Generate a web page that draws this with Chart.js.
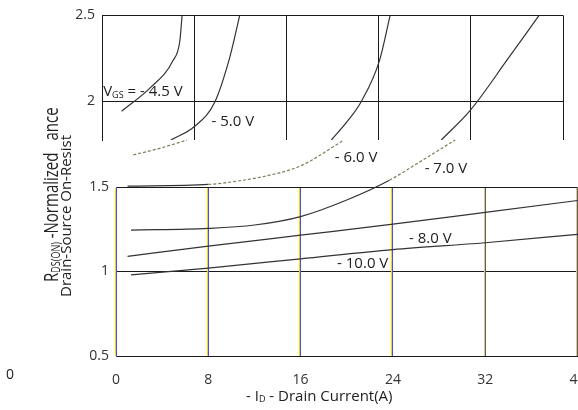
<!DOCTYPE html>
<html>
<head>
<meta charset="utf-8">
<script src="https://cdn.jsdelivr.net/npm/chart.js@4.4.1/dist/chart.umd.min.js"></script>
<style>
	html, body {margin: 0; padding: 0; background: #fff;}
	body {width: 578px; height: 410px; overflow: hidden; position: relative; font-family: "Open Sans", sans-serif; color: #222;}
	canvas {position: absolute; left: 0; top: 0;}
	.rot {position: absolute; white-space: nowrap; line-height: 1; transform-origin: 0 0;}
	.sub {font-size: 0.6em; vertical-align: -0.15em;}
</style>
</head>
<body>
<canvas id="bottom" width="600" height="410"></canvas>
<canvas id="top" width="600" height="410"></canvas>

<div class="rot" style="left:41px; top:282px; font-size:15px; transform: rotate(-90deg) scaleY(1.3);">R<span class="sub">DS(ON)</span> -Normalized<span style="margin-left:12px">ance</span></div>
<div class="rot" style="left:59px; top:297px; font-size:15px; transform: rotate(-90deg) scaleY(0.92);">Drain-Source On-Resist</div>
<div class="rot" style="left:246px; top:388px; font-size:15px;">- I<span class="sub">D</span> - Drain Current(A)</div>
<div class="rot" style="left:6px; top:367px; font-size:14px;">0</div>

<script>
// drain current (A) / normalized RDS(on)
// lower panel (0.5 .. 1.5), the faint parts above 1.5 sit in the gap
const vgs10I = [1.3, 8, 16, 24, 32, 40];
const vgs10R = [0.98, 1.02, 1.075, 1.13, 1.17, 1.22];
const vgs8I = [1, 8, 16, 24, 32, 40];
const vgs8R = [1.09, 1.15, 1.215, 1.28, 1.35, 1.42];
const vgs7LowI = [1.3, 8, 12, 16, 20, 23.7, 26.6, 29.4];
const vgs7LowR = [1.245, 1.255, 1.275, 1.325, 1.423, 1.54, 1.66, 1.778];
const vgs6LowI = [1, 8, 11, 13, 16, 19.7];
const vgs6LowR = [1.505, 1.515, 1.54, 1.565, 1.625, 1.775];
const vgs5LowI = [1.5, 3.8, 6.15];
const vgs5LowR = [1.69, 1.729, 1.778];

// upper panel (shifted left in the scan)
const vgs45I = [1.7, 4.2, 6.15, 6.75, 6.95];
const vgs45R = [1.943, 2.08, 2.236, 2.35, 2.5];
const vgs5HighI = [5.97, 8.05, 9.78, 11.08, 11.95];
const vgs5HighR = [1.776, 1.856, 1.996, 2.255, 2.5];
const vgs6HighI = [19.9, 21.3, 22.5, 24.07, 25.0];
const vgs6HighR = [1.776, 1.885, 2.0, 2.236, 2.5];
const vgs7HighI = [29.44, 31.95, 35.15, 37.92];
const vgs7HighR = [1.776, 1.948, 2.241, 2.5];

const xTicks = [0, 8, 16, 24, 32, 40];
const lowYTicks = [0.5, 1, 1.5];
const highYTicks = [2, 2.5];

const lowLabels = [
	{parts: [['- 6.0 V']], i: 18.96, r: 1.648},
	{parts: [['- 7.0 V']], i: 26.75, r: 1.581},
	{parts: [['- 8.0 V']], i: 25.4, r: 1.167},
	{parts: [['- 10.0 V']], i: 19.16, r: 1.019},
];
const highLabels = [
	{parts: [['V'], ['GS', true], [' = - 4.5 V']], i: 0.1, r: 2.034},
	{parts: [['- 5.0 V']], i: 9.5, r: 1.856},
];

Chart.defaults.font.family = '"Open Sans", sans-serif';
Chart.defaults.color = '#222';
Chart.defaults.animation = false;

const pts = (xs, ys) => xs.map((x, k) => ({x: x, y: ys[k]}));

const curveLabels = {
	id: 'curveLabels',
	afterDatasetsDraw(chart, args, opts) {
		const {ctx, scales: {x, y}} = chart;
		ctx.save();
		ctx.fillStyle = '#222';
		ctx.textBaseline = 'alphabetic';
		opts.items.forEach(item => {
			let px = x.getPixelForValue(item.i);
			const py = y.getPixelForValue(item.r);
			item.parts.forEach(([text, sub]) => {
				ctx.font = (sub ? '9px' : '15px') + ' "Open Sans", sans-serif';
				ctx.fillText(text, px, sub ? py + 2 : py);
				px += ctx.measureText(text).width;
			});
		});
		ctx.restore();
	}
};

// vertical grid lines at the x ticks; lower panel has a yellow fringe left of each blue line
const panelGrid = {
	id: 'panelGrid',
	beforeDatasetsDraw(chart, args, opts) {
		const {ctx, chartArea, scales: {x}} = chart;
		ctx.save();
		ctx.lineWidth = 1;
		x.ticks.forEach(t => {
			const px = Math.round(x.getPixelForValue(t.value) - 0.5) + 0.5;
			opts.colors.forEach((c, k) => {
				ctx.strokeStyle = c;
				ctx.beginPath();
				ctx.moveTo(px - (opts.colors.length - 1 - k), chartArea.top + opts.inset);
				ctx.lineTo(px - (opts.colors.length - 1 - k), chartArea.bottom);
				ctx.stroke();
			});
		});
		ctx.restore();
	}
};

const gapped = c => c.p0.parsed.y >= 1.5 && c.p1.parsed.y > 1.53;
const gapDash = c => gapped(c) ? [3, 2] : undefined;
const gapColor = c => gapped(c) ? '#7d7d5c' : undefined;

const curve = (data, extra) => Object.assign({
	data: data,
	borderColor: '#333',
	borderWidth: 1.2,
	pointRadius: 0,
	cubicInterpolationMode: 'monotone',
	fill: false
}, extra);

new Chart(document.getElementById('bottom'), {
	type: 'line',
	data: {
		datasets: [
			curve(pts(vgs10I, vgs10R), {clip: false}),
			curve(pts(vgs8I, vgs8R), {clip: false}),
			curve(pts(vgs7LowI, vgs7LowR), {clip: false, segment: {borderDash: gapDash, borderColor: gapColor}}),
			curve(pts(vgs6LowI, vgs6LowR), {clip: false, segment: {borderDash: gapDash, borderColor: gapColor}}),
			curve(pts(vgs5LowI, vgs5LowR), {clip: false, segment: {borderDash: gapDash, borderColor: gapColor}}),
		]
	},
	options: {
		responsive: false,
		layout: {padding: {top: 187, right: 22.5, bottom: 0, left: 0}},
		plugins: {
			legend: {display: false},
			tooltip: {enabled: false},
			curveLabels: {items: lowLabels},
			panelGrid: {colors: ['#f0dc00', '#4b4bf0'], inset: 1}
		},
		scales: {
			x: {
				type: 'linear', min: 0, max: 40,
				afterBuildTicks: s => { s.ticks = xTicks.map(v => ({value: v})); },
				afterFit: s => { s.height = 54; },
				ticks: {font: {size: 14}, color: '#333', padding: 8, autoSkip: false, callback: v => String(v)},
				grid: {display: false},
				border: {color: '#1a1a1a'}
			},
			y: {
				min: 0.5, max: 1.5,
				afterBuildTicks: s => { s.ticks = lowYTicks.map(v => ({value: v})); },
				afterFit: s => { s.width = 116; },
				ticks: {font: {size: 14}, color: '#333', padding: 7, callback: v => String(v)},
				grid: {color: '#1a1a1a', lineWidth: 1, drawTicks: false},
				border: {color: '#4b4bf0'}
			}
		}
	},
	plugins: [panelGrid, curveLabels]
});

new Chart(document.getElementById('top'), {
	type: 'line',
	data: {
		datasets: [
			curve(pts(vgs45I, vgs45R)),
			curve(pts(vgs5HighI, vgs5HighR)),
			curve(pts(vgs6HighI, vgs6HighR)),
			curve(pts(vgs7HighI, vgs7HighR)),
		]
	},
	options: {
		responsive: false,
		layout: {padding: {top: 14, right: 37, bottom: 270, left: 0}},
		plugins: {
			legend: {display: false},
			tooltip: {enabled: false},
			curveLabels: {items: highLabels},
			panelGrid: {colors: ['#1a1a1a'], inset: 0}
		},
		scales: {
			x: {
				type: 'linear', min: 0, max: 40,
				afterBuildTicks: s => { s.ticks = xTicks.map(v => ({value: v})); },
				afterFit: s => { s.height = 0; },
				ticks: {display: false},
				grid: {display: false},
				border: {display: false}
			},
			y: {
				min: 1.776, max: 2.5,
				afterBuildTicks: s => { s.ticks = highYTicks.map(v => ({value: v})); },
				afterFit: s => { s.width = 102; },
				ticks: {font: {size: 14}, color: '#333', padding: 7, callback: v => String(v)},
				grid: {color: '#1a1a1a', lineWidth: 1, drawTicks: false},
				border: {color: '#1a1a1a'}
			}
		}
	},
	plugins: [panelGrid, curveLabels]
});
</script>
</body>
</html>
